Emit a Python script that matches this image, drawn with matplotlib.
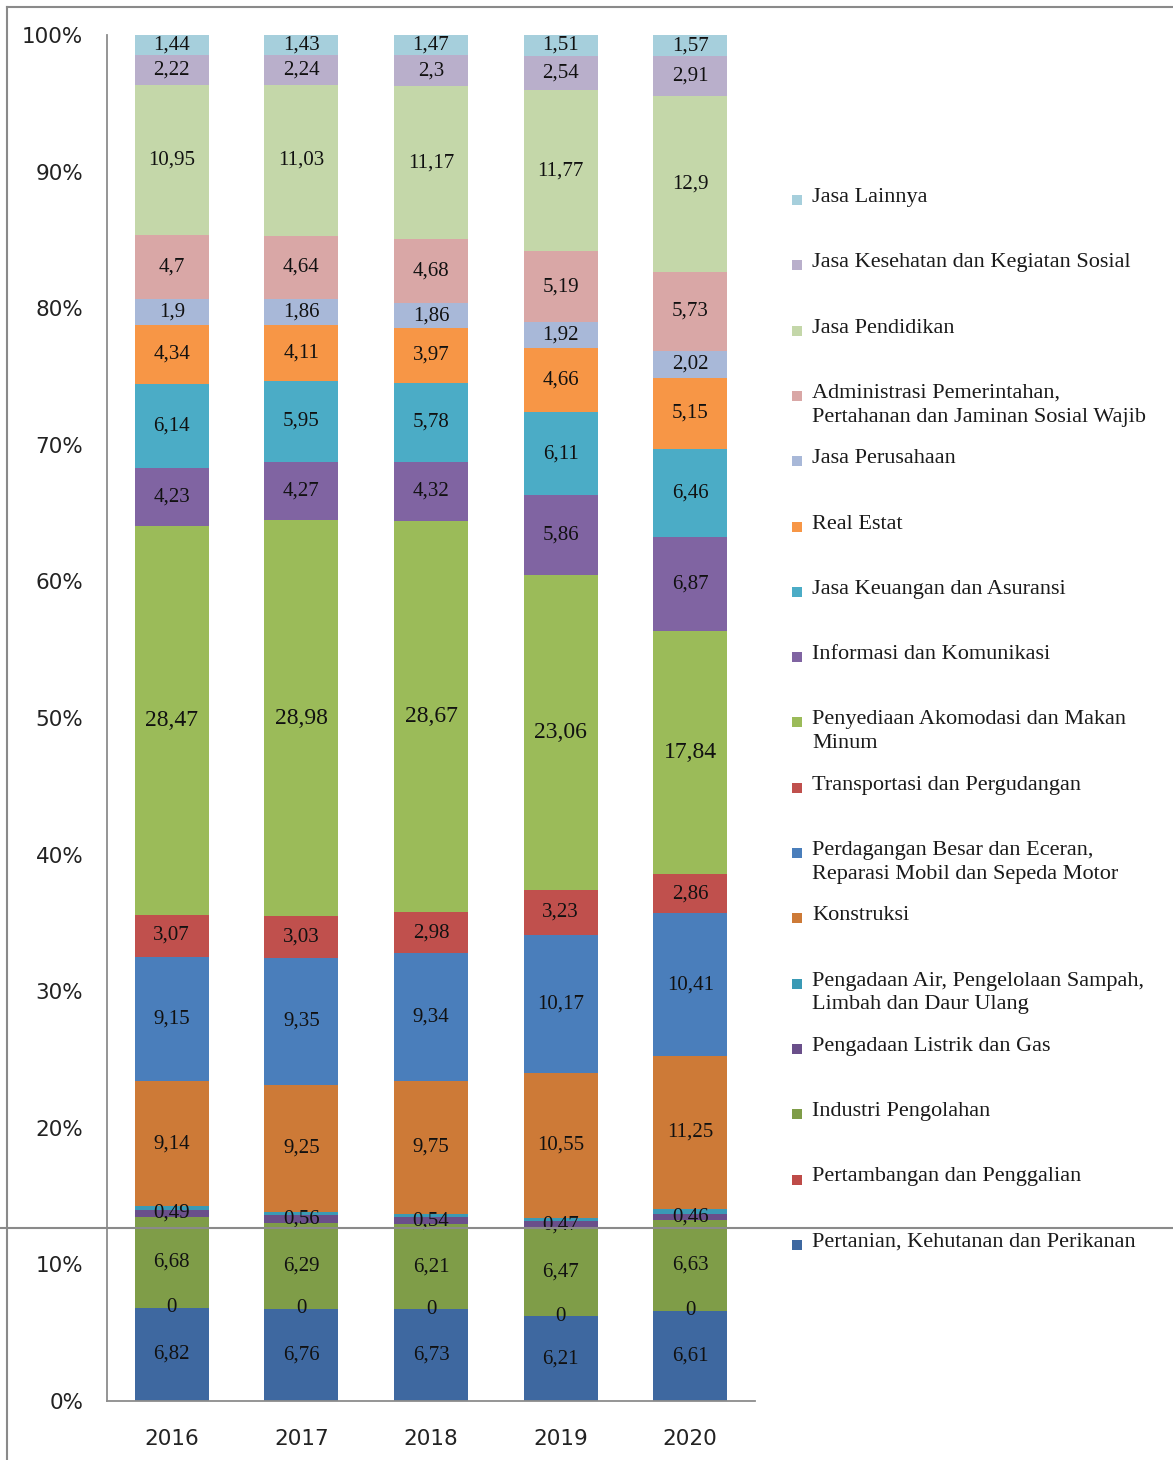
"""Distribusi PDRB menurut lapangan usaha, 2016-2020 (stacked 100%)."""

import matplotlib

matplotlib.use("Agg")
import matplotlib.pyplot as plt
import numpy as np
from matplotlib.lines import Line2D
from matplotlib.patches import Rectangle

years = ["2016", "2017", "2018", "2019", "2020"]

# sectors, bottom to top of the stack
sectors = [
    "Pertanian, Kehutanan dan Perikanan",
    "Pertambangan dan Penggalian",
    "Industri Pengolahan",
    "Pengadaan Listrik dan Gas",
    "Pengadaan Air, Pengelolaan Sampah,\nLimbah dan Daur Ulang",
    "Konstruksi",
    "Perdagangan Besar dan Eceran,\nReparasi Mobil dan Sepeda Motor",
    "Transportasi dan Pergudangan",
    "Penyediaan Akomodasi dan Makan\nMinum",
    "Informasi dan Komunikasi",
    "Jasa Keuangan dan Asuransi",
    "Real Estat",
    "Jasa Perusahaan",
    "Administrasi Pemerintahan,\nPertahanan dan Jaminan Sosial Wajib",
    "Jasa Pendidikan",
    "Jasa Kesehatan dan Kegiatan Sosial",
    "Jasa Lainnya",
]

pertanian = [6.82, 6.76, 6.73, 6.21, 6.61]
pertambangan = [0, 0, 0, 0, 0]
industri = [6.68, 6.29, 6.21, 6.47, 6.63]
listrik = [0.49, 0.56, 0.54, 0.47, 0.46]
air = [0.26, 0.25, 0.23, 0.28, 0.33]  # unlabelled sliver, estimated
konstruksi = [9.14, 9.25, 9.75, 10.55, 11.25]
perdagangan = [9.15, 9.35, 9.34, 10.17, 10.41]
transportasi = [3.07, 3.03, 2.98, 3.23, 2.86]
akomodasi = [28.47, 28.98, 28.67, 23.06, 17.84]
informasi = [4.23, 4.27, 4.32, 5.86, 6.87]
keuangan = [6.14, 5.95, 5.78, 6.11, 6.46]
real_estat = [4.34, 4.11, 3.97, 4.66, 5.15]
jasa_perusahaan = [1.9, 1.86, 1.86, 1.92, 2.02]
administrasi = [4.7, 4.64, 4.68, 5.19, 5.73]
pendidikan = [10.95, 11.03, 11.17, 11.77, 12.9]
kesehatan = [2.22, 2.24, 2.3, 2.54, 2.91]
lainnya = [1.44, 1.43, 1.47, 1.51, 1.57]

series = [
    pertanian, pertambangan, industri, listrik, air, konstruksi, perdagangan,
    transportasi, akomodasi, informasi, keuangan, real_estat, jasa_perusahaan,
    administrasi, pendidikan, kesehatan, lainnya,
]
labelled = [True, True, True, True, False] + [True] * 12

colors = [
    "#3E68A0", "#BE4B48", "#7F9D48", "#6A4F8A", "#3A9AB5", "#CD7A37",
    "#4A7EBB", "#C0504D", "#9BBB59", "#8064A2", "#4BACC6", "#F79646",
    "#A8B8D8", "#D9A7A6", "#C4D7A9", "#B9AFCB", "#A6CFDC",
]

W, H = 1173, 1460
fig = plt.figure(figsize=(W / 100, H / 100), dpi=100)
ax = fig.add_axes([107 / W, 1 - 1401 / H, (755 - 107) / W, (1401 - 35) / H])

data = np.array(series, dtype=float)
totals = data.sum(axis=0)
shares = data / totals * 100
x = np.arange(len(years))

label_font = ["Liberation Serif", "DejaVu Serif"]
bottom = np.zeros(len(years))
for i, (vals, raw) in enumerate(zip(shares, data)):
    ax.bar(x, vals, width=0.57, bottom=bottom, color=colors[i], linewidth=0)
    if labelled[i]:
        size = 17 if sectors[i].startswith("Penyediaan") else 15
        for xi, b, v, r in zip(x, bottom, vals, raw):
            ax.text(xi, b + v / 2, f"{r:g}".replace(".", ","), ha="center",
                    va="center", fontsize=size, family=label_font,
                    color="#111111")
    bottom += vals

ax.set_xlim(-0.5, 4.5)
ax.set_ylim(0, 100)
ax.set_yticks(np.arange(0, 101, 10))
ax.set_yticklabels([f"{t}%" for t in range(0, 101, 10)])
ax.set_xticks(x)
ax.set_xticklabels(years)
for lab in ax.get_yticklabels() + ax.get_xticklabels():
    lab.set_family("DejaVu Sans")
    lab.set_fontsize(15.5)
    lab.set_color("#222222")
ax.tick_params(axis="y", length=0, pad=17)
ax.tick_params(axis="x", length=0, pad=20)
for side in ["top", "right"]:
    ax.spines[side].set_visible(False)
for side in ["left", "bottom"]:
    ax.spines[side].set_color("#8c8c8c")
    ax.spines[side].set_linewidth(1.3)

# legend, top entry first, drawn by hand so the marker sits on the first line
for k, i in enumerate(range(len(sectors) - 1, -1, -1)):
    yc = 200 + k * 65.3
    fig.add_artist(Rectangle((792 / W, 1 - (yc + 5) / H), 10 / W, 10 / H,
                             transform=fig.transFigure, color=colors[i],
                             linewidth=0))
    fig.text(812 / W, 1 - (yc - 12) / H, sectors[i], ha="left", va="top",
             fontsize=16, family=label_font, color="#1a1a1a",
             linespacing=1.35)

# screenshot frame lines
frame = "#8a8a8a"
fig.add_artist(Line2D([7 / W, 7 / W], [0, 1 - 7 / H], color=frame, lw=1.5))
fig.add_artist(Line2D([7 / W, 1], [1 - 7 / H, 1 - 7 / H], color=frame, lw=1.5))
fig.add_artist(Line2D([0, 1], [1 - 1228 / H, 1 - 1228 / H], color=frame,
                      lw=1.5))

fig.savefig("out.png", dpi=100)
